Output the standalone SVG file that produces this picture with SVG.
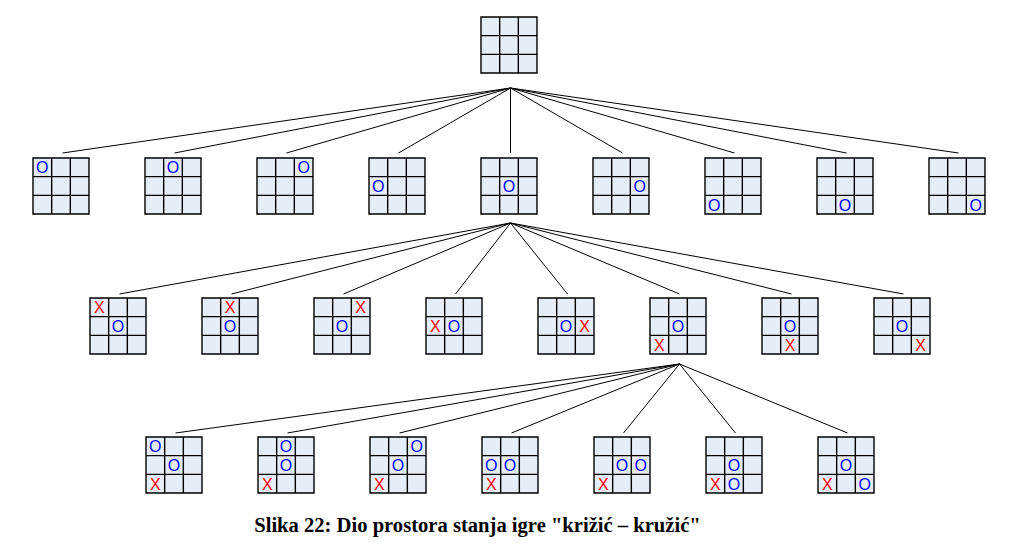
<svg xmlns="http://www.w3.org/2000/svg" xmlns:xlink="http://www.w3.org/1999/xlink" width="1021" height="547" viewBox="0 0 1021 547">
<style>
.cell{fill:#e7edf7;stroke:none}
.gl{stroke:#000;stroke-width:1.4;fill:none}
.o{font-family:"Liberation Sans",Arial,sans-serif;font-size:16px;fill:#0000ff;text-anchor:middle}
.x{font-family:"Liberation Sans",Arial,sans-serif;font-size:16px;fill:#ff0000;text-anchor:middle}
.edge{stroke:#000;stroke-width:1;fill:none}
.cap{font-family:"Liberation Serif","Times New Roman",serif;font-size:20.6px;font-weight:bold;fill:#000;text-anchor:middle}
</style>
<defs>
<g id="board">
<rect class="cell" x="0" y="0" width="56" height="56"/>
<path class="gl" d="M0,0H56V56H0Z M18.67,0V56 M37.33,0V56 M0,18.67H56 M0,37.33H56"/>
</g>
</defs>
<rect width="1021" height="547" fill="#fff"/>
<g id="connectors">
<path class="edge" d="M510.5,88L62.5,153 M510.5,88L174.5,153 M510.5,88L286.5,153 M510.5,88L398.5,153 M510.5,88L510.5,153 M510.5,88L622.5,153 M510.5,88L734.5,153 M510.5,88L846.5,153 M510.5,88L958.5,153"/>
<path class="edge" d="M510.5,223L119.5,294 M510.5,223L231.5,294 M510.5,223L343.5,294 M510.5,223L455.5,294 M510.5,223L567.5,294 M510.5,223L679.5,294 M510.5,223L791.5,294 M510.5,223L903.5,294"/>
<path class="edge" d="M679.5,364L175.5,433 M679.5,364L287.5,433 M679.5,364L399.5,433 M679.5,364L511.5,433 M679.5,364L623.5,433 M679.5,364L735.5,433 M679.5,364L847.5,433"/>
</g>
<g id="root"><use xlink:href="#board" x="481" y="17"/></g>
<g id="n1-1"><use xlink:href="#board" x="33" y="158"/><text class="o" x="42.3" y="173.3">O</text></g>
<g id="n1-2"><use xlink:href="#board" x="145" y="158"/><text class="o" x="173" y="173.3">O</text></g>
<g id="n1-3"><use xlink:href="#board" x="257" y="158"/><text class="o" x="303.7" y="173.3">O</text></g>
<g id="n1-4"><use xlink:href="#board" x="369" y="158"/><text class="o" x="378.3" y="192">O</text></g>
<g id="n1-5"><use xlink:href="#board" x="481" y="158"/><text class="o" x="509" y="192">O</text></g>
<g id="n1-6"><use xlink:href="#board" x="593" y="158"/><text class="o" x="639.7" y="192">O</text></g>
<g id="n1-7"><use xlink:href="#board" x="705" y="158"/><text class="o" x="714.3" y="210.7">O</text></g>
<g id="n1-8"><use xlink:href="#board" x="817" y="158"/><text class="o" x="845" y="210.7">O</text></g>
<g id="n1-9"><use xlink:href="#board" x="929" y="158"/><text class="o" x="975.7" y="210.7">O</text></g>
<g id="n2-1"><use xlink:href="#board" x="90" y="298"/><text class="o" x="118" y="332">O</text><text class="x" x="99.3" y="313.3">X</text></g>
<g id="n2-2"><use xlink:href="#board" x="202" y="298"/><text class="o" x="230" y="332">O</text><text class="x" x="230" y="313.3">X</text></g>
<g id="n2-3"><use xlink:href="#board" x="314" y="298"/><text class="o" x="342" y="332">O</text><text class="x" x="360.7" y="313.3">X</text></g>
<g id="n2-4"><use xlink:href="#board" x="426" y="298"/><text class="o" x="454" y="332">O</text><text class="x" x="435.3" y="332">X</text></g>
<g id="n2-5"><use xlink:href="#board" x="538" y="298"/><text class="o" x="566" y="332">O</text><text class="x" x="584.7" y="332">X</text></g>
<g id="n2-6"><use xlink:href="#board" x="650" y="298"/><text class="o" x="678" y="332">O</text><text class="x" x="659.3" y="350.7">X</text></g>
<g id="n2-7"><use xlink:href="#board" x="762" y="298"/><text class="o" x="790" y="332">O</text><text class="x" x="790" y="350.7">X</text></g>
<g id="n2-8"><use xlink:href="#board" x="874" y="298"/><text class="o" x="902" y="332">O</text><text class="x" x="920.7" y="350.7">X</text></g>
<g id="n3-1"><use xlink:href="#board" x="146" y="437"/><text class="o" x="174" y="471">O</text><text class="x" x="155.3" y="489.7">X</text><text class="o" x="155.3" y="452.3">O</text></g>
<g id="n3-2"><use xlink:href="#board" x="258" y="437"/><text class="o" x="286" y="471">O</text><text class="x" x="267.3" y="489.7">X</text><text class="o" x="286" y="452.3">O</text></g>
<g id="n3-3"><use xlink:href="#board" x="370" y="437"/><text class="o" x="398" y="471">O</text><text class="x" x="379.3" y="489.7">X</text><text class="o" x="416.7" y="452.3">O</text></g>
<g id="n3-4"><use xlink:href="#board" x="482" y="437"/><text class="o" x="510" y="471">O</text><text class="x" x="491.3" y="489.7">X</text><text class="o" x="491.3" y="471">O</text></g>
<g id="n3-5"><use xlink:href="#board" x="594" y="437"/><text class="o" x="622" y="471">O</text><text class="x" x="603.3" y="489.7">X</text><text class="o" x="640.7" y="471">O</text></g>
<g id="n3-6"><use xlink:href="#board" x="706" y="437"/><text class="o" x="734" y="471">O</text><text class="x" x="715.3" y="489.7">X</text><text class="o" x="734" y="489.7">O</text></g>
<g id="n3-7"><use xlink:href="#board" x="818" y="437"/><text class="o" x="846" y="471">O</text><text class="x" x="827.3" y="489.7">X</text><text class="o" x="864.7" y="489.7">O</text></g>
<text class="cap" x="477.5" y="532">Slika 22: Dio prostora stanja igre "križić – kružić"</text>
</svg>
